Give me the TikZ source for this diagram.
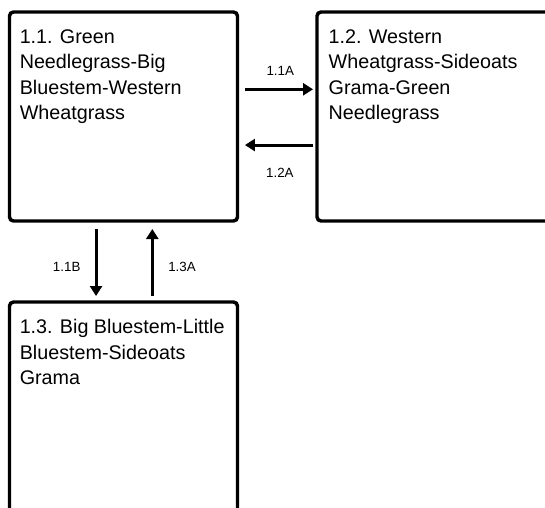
\documentclass[tikz,border=0pt]{standalone}
\usepackage{fontspec}
\setmainfont{Liberation Sans}
\usetikzlibrary{arrows.meta}

\begin{document}
\begin{tikzpicture}[x=0.75pt, y=-0.75pt,
  statebox/.style={draw, line width=2.6pt, rounded corners=3pt, inner sep=0pt, outer sep=0pt},
  statetext/.style={anchor=north west, inner sep=0pt, align=left, font=\fontsize{14.8pt}{19.1pt}\selectfont},
  trans/.style={-{Triangle[width=9pt,length=7.5pt]}, line width=2.25pt},
  translabel/.style={font=\fontsize{10pt}{12pt}\selectfont, inner sep=0pt}]
  \useasboundingbox (0,0) rectangle (545,507);
  \clip (0,0) rectangle (545,507);

  % State boxes
  \node[statebox, minimum width=171pt, minimum height=156.75pt] (g11) at (123.5,116.5) {};
  \node[statebox, minimum width=189.75pt, minimum height=156.75pt] (g12) at (443.5,116.5) {};
  \node[statebox, minimum width=171pt, minimum height=178.5pt] (g13) at (123.5,421) {};

  % Community names
  \node[statetext] (g11txt) at ([xshift=7.5pt,yshift=-13pt]g11.north west)
    {1.1. Green\\Needlegrass-Big\\Bluestem-Western\\Wheatgrass};
  \node[statetext] (g12txt) at ([xshift=8.6pt,yshift=-13pt]g12.north west)
    {1.2. Western\\Wheatgrass-Sideoats\\Grama-Green\\Needlegrass};
  \node[statetext] (g13txt) at ([xshift=7.5pt,yshift=-13pt]g13.north west)
    {1.3. Big Bluestem-Little\\Bluestem-Sideoats\\Grama};

  % Transitions between 1.1 and 1.2
  \draw[trans, shorten <=5.6pt, shorten >=3pt] ([yshift=20.4pt]g11.east) -- ([yshift=20.4pt]g12.west)
    node[translabel, midway, xshift=2.25pt, yshift=13.5pt] {1.1A};
  \draw[trans, shorten <=3pt, shorten >=5.6pt] ([yshift=-21.4pt]g12.west) -- ([yshift=-21.4pt]g11.east)
    node[translabel, midway, xshift=2pt, yshift=-20.8pt] {1.2A};

  % Transitions between 1.1 and 1.3
  \draw[trans, shorten <=6pt, shorten >=4.5pt] ([xshift=-20.6pt]g11.south) -- ([xshift=-20.6pt]g13.north)
    node[translabel, midway, xshift=-22pt, yshift=-4pt] {1.1B};
  \draw[trans, shorten <=4.5pt, shorten >=6pt] ([xshift=21.6pt]g13.north) -- ([xshift=21.6pt]g11.south)
    node[translabel, midway, xshift=22.3pt, yshift=-4pt] {1.3A};
\end{tikzpicture}
\end{document}
